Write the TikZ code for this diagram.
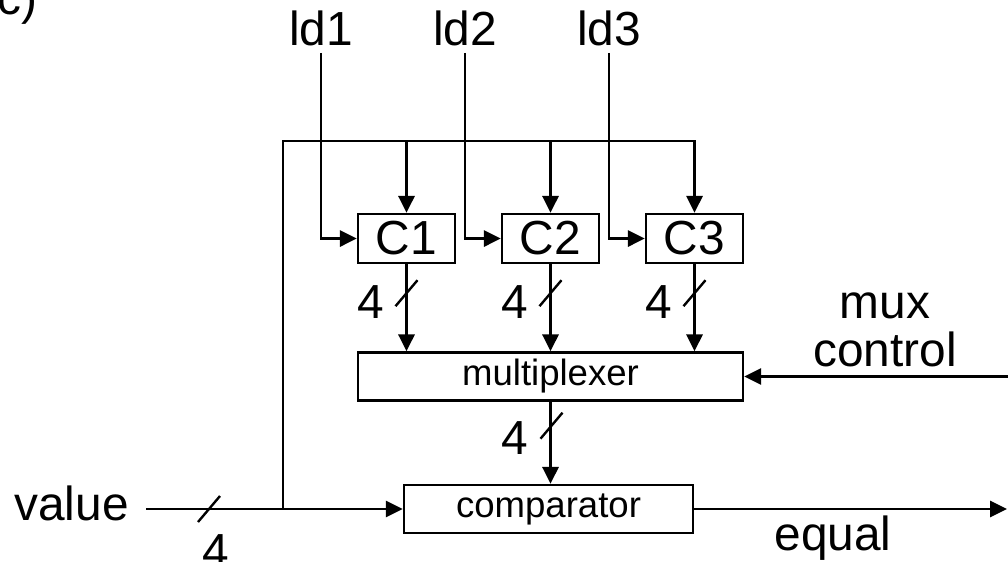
\documentclass[tikz,border=0pt]{standalone}
\usepackage{fontspec}
\setmainfont{Liberation Sans}
\usetikzlibrary{arrows.meta, positioning, calc}

\begin{document}
\begin{tikzpicture}[x=0.025cm, y=-0.025cm,
    box/.style={rectangle, draw, line width=1.7pt, inner sep=0pt,
                minimum width=2.425cm, minimum height=1.225cm,
                font=\fontsize{34}{34}\selectfont},
    wide/.style={rectangle, draw, line width=1.7pt, inner sep=0pt,
                 minimum height=1.2cm, font=\fontsize{26}{26}\selectfont},
    lbl/.style={font=\fontsize{34}{34}\selectfont, inner sep=0pt},
    bits/.style={font=\fontsize{34}{34}\selectfont, inner sep=0pt},
    wire/.style={line width=1.7pt},
    arrow/.style={-{Triangle[length=12pt, width=11.5pt]}, line width=1.7pt}
]
    \useasboundingbox (0,0) rectangle (1008,561);

    % Figure tag
    \node[lbl, anchor=base east] (tag) at (38,14) {c)};

    % Registers and load signals
    \foreach \i in {1,2,3} {
        \node[box] (C\i) at ({406.5+144*(\i-1)}, 238.5) {C\i};
        \node[lbl, anchor=base, inner sep=5pt] (ld\i) at ({321+144*(\i-1)}, 45) {ld\i};
    }

    \node[wide, minimum width=9.625cm] (mux) at (550.5, 376.5) {multiplexer};
    \node[wide, minimum width=7.225cm] (comp) at (548.5, 509) {comparator};

    \node[lbl, anchor=base east] (value) at (129, 520) {value};
    \node[lbl, anchor=base] (equal) at (833, 550) {equal};
    \node[lbl, align=center, font=\fontsize{34}{34}\selectfont] (muxctl) at (885, 329.5) {mux\\control};

    \coordinate (junc) at (283, 509);
    \coordinate (bus) at (283, 141);
    \coordinate (selin) at (1008, 376.5);
    \coordinate (eqout) at (1007, 509);

    % Value input and bus to the registers
    \draw[wire] ($(value.base east)+(17,-11)$) -- (junc);
    \draw[arrow] (junc) -- (comp.west);
    \draw[wire] ($(junc)+(-85,13)$) -- ++(22,-26);
    \node[bits] (wv) at ($(junc)+(-67,42)$) {4};
    \draw[arrow] (junc) -- (bus) -| (C3.north);
    \foreach \i in {1,2} \draw[arrow] (C\i.north |- bus) -- (C\i.north);

    % Load lines
    \foreach \i in {1,2,3} \draw[arrow] (ld\i.south) |- (C\i.west);

    % Register outputs (4 bits)
    \foreach \i in {1,2,3} {
        \draw[arrow] (C\i.south) -- (C\i.south |- mux.north);
        \draw[wire] ($(C\i.south)+(-11,42)$) -- ++(22,-26);
        \node[bits] (w\i) at ($(C\i.south)+(-36,38)$) {4};
    }

    % Multiplexer to comparator
    \draw[arrow] (mux.south) -- (mux.south |- comp.north);
    \draw[wire] ($(mux.south)+(-10,37)$) -- ++(22,-26);
    \node[bits] (wm) at ($(mux.south)+(-35.5,36)$) {4};

    % Control and result
    \draw[arrow] (selin) -- (mux.east);
    \draw[arrow] (comp.east) -- (eqout);
\end{tikzpicture}
\end{document}
